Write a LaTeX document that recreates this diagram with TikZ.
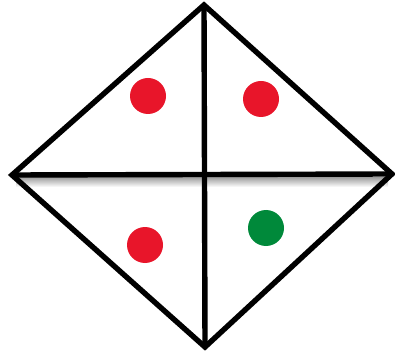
\documentclass[tikz,border=0pt]{standalone}
\usepackage{xcolor}
\usepackage{tikz}
\usetikzlibrary{positioning,calc}
\definecolor{dotred}{HTML}{E8152A}
\definecolor{dotgreen}{HTML}{00893A}

\begin{document}
\begin{tikzpicture}[
  x=1pt,y=-1pt,
  edge/.style={line width=5.4pt,line join=miter,black},
  dot/.style={circle,inner sep=0pt,minimum size=36pt}
]
\useasboundingbox (0,0) rectangle (395,352);
\coordinate (top) at (204,5);
\coordinate (left) at (12,175);
\coordinate (right) at (392,174);
\coordinate (bottom) at (205,347);
% faint shadow under the cross line
\shade[top color=black!35,bottom color=white,draw=none] (16,178) rectangle (388,187);
\draw[edge] (top) -- (right) -- (bottom) -- (left) -- cycle;
\draw[edge] (left) -- (right);
\draw[edge] (top) -- (bottom);
\foreach \n/\x/\y/\c in {a/148/96/dotred, b/261/99/dotred, c/145/245/dotred, d/266/228/dotgreen}
  \node[dot,fill=\c] (\n) at (\x,\y) {};
\end{tikzpicture}
\end{document}
